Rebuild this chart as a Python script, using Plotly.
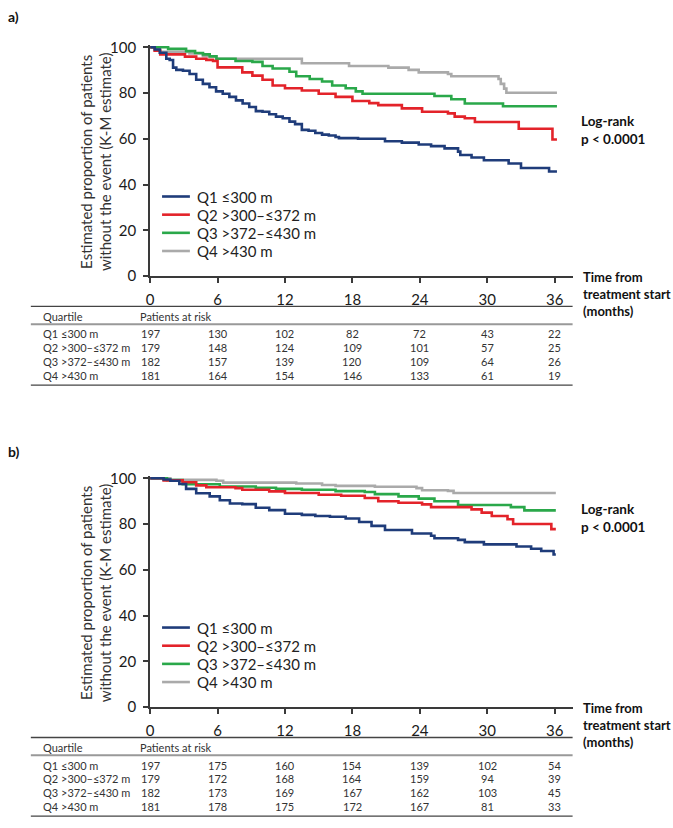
import plotly.graph_objects as go

W, H = 673, 828
FONT = "Lato"

groups = ["Q1 ≤300 m", "Q2 >300–≤372 m", "Q3 >372–≤430 m", "Q4 >430 m"]
colors = ["#1f3c7a", "#e3232a", "#2aa84a", "#aaaaaa"]
months = [0, 6, 12, 18, 24, 30, 36]

# ---- Panel a: Kaplan-Meier step points (time in months, % without event) ----
a_q1_t = [0, 0.41, 0.86, 1.44, 1.74, 2.04, 2.33, 2.92, 3.51, 4.1, 4.69, 5.28, 5.87, 6.46, 7.05, 7.64, 8.23,
          8.82, 9.41, 10.0, 10.6, 11.2, 11.8, 12.4, 12.9, 13.5, 14.1, 14.7, 15.3, 15.9, 16.5, 16.8, 18.5,
          20.9, 22.4, 23.9, 25.0, 26.2, 27.4, 27.6, 28.6, 29.7, 31.9, 33.0, 35.5, 36.2]
a_q1_s = [100, 99.0, 97.6, 95.0, 94.4, 91.1, 90.1, 89.7, 88.3, 85.8, 84.0, 82.5, 80.7, 79.7, 78.3, 76.8, 75.4,
          73.9, 72.1, 71.8, 70.7, 69.7, 69.0, 67.5, 66.4, 63.9, 63.5, 62.5, 61.8, 61.4, 60.8, 60.3, 60.0,
          58.9, 58.3, 57.5, 56.8, 55.8, 54.4, 52.9, 51.8, 50.6, 49.2, 47.2, 45.7, 45.7]
a_q2_t = [0, 0.4, 0.9, 3.1, 4.1, 5.0, 5.6, 6.0, 8.2, 9.1, 10.0, 10.9, 12.0, 13.5, 15.0, 16.5, 18.0, 19.5,
          20.3, 22.4, 24.2, 26.5, 27.1, 28.0, 28.9, 32.8, 35.8, 36.2]
a_q2_s = [100, 98.5, 96.9, 95.9, 95.0, 94.5, 94.0, 91.2, 89.0, 87.6, 85.8, 83.3, 82.1, 81.1, 79.7, 78.3, 76.5,
          75.6, 74.7, 73.3, 71.8, 71.1, 69.7, 69.0, 67.3, 64.4, 59.7, 59.7]
a_q3_t = [0, 1.6, 3.2, 4.0, 4.7, 5.3, 5.9, 7.6, 9.1, 10.0, 10.9, 12.4, 13.0, 14.2, 15.3, 16.2, 17.4, 18.3,
          18.9, 25.3, 26.8, 28.0, 31.4, 36.2]
a_q3_s = [100, 99.3, 98.3, 97.5, 96.9, 96.0, 95.0, 94.0, 93.6, 91.8, 90.7, 89.3, 87.3, 86.1, 85.0, 83.3, 82.1,
          80.7, 79.7, 78.7, 77.3, 75.4, 74.2, 74.2]
a_q4_t = [0, 0.5, 0.9, 3.5, 4.7, 5.9, 13.5, 17.7, 21.2, 23.0, 23.9, 26.5, 26.8, 31.0, 31.2, 31.5, 31.7, 36.2]
a_q4_s = [100, 99.0, 98.0, 97.3, 96.1, 95.0, 93.0, 91.8, 91.1, 90.1, 89.0, 88.3, 87.3, 86.1, 84.0, 81.9, 80.1, 80.1]

# ---- Panel b ----
b_q1_t = [0, 1.2, 1.8, 2.6, 3.2, 4.1, 5.3, 6.2, 7.1, 8.2, 9.4, 10.6, 12.0, 13.5, 14.7, 16.0, 17.4, 18.6,
          19.7, 20.9, 23.3, 25.0, 25.3, 27.4, 28.0, 29.7, 32.6, 33.9, 34.8, 35.9, 36.1]
b_q1_s = [100, 99.5, 98.9, 97.5, 95.4, 93.5, 92.1, 90.4, 89.0, 88.7, 87.1, 86.1, 84.5, 84.0, 83.5, 83.2, 82.4,
          80.9, 79.2, 77.4, 75.9, 74.9, 73.8, 73.1, 72.1, 71.1, 70.2, 69.2, 68.2, 66.7, 66.7]
b_q2_t = [0, 1.2, 2.9, 4.1, 5.0, 7.6, 8.2, 10.6, 12.0, 15.0, 17.0, 19.1, 20.3, 22.1, 24.2, 25.0, 28.6, 29.5,
          30.4, 31.8, 32.3, 35.7, 36.1]
b_q2_s = [100, 99.1, 98.3, 96.9, 96.1, 95.7, 95.0, 94.3, 93.6, 92.8, 92.4, 91.4, 90.0, 89.3, 88.6, 87.4, 86.4,
          85.0, 83.5, 82.1, 80.0, 77.8, 77.8]
b_q3_t = [0, 1.5, 2.9, 6.2, 9.4, 11.2, 13.5, 16.5, 19.1, 20.0, 22.1, 23.9, 25.3, 27.4, 32.1, 33.3, 36.1]
b_q3_s = [100, 99.2, 97.4, 96.4, 95.9, 95.4, 95.0, 94.4, 94.0, 93.1, 92.1, 91.1, 90.0, 88.3, 87.4, 86.0, 86.0]
b_q4_t = [0, 1.8, 5.9, 6.5, 13.0, 15.3, 16.5, 20.0, 23.7, 24.2, 26.5, 27.0, 36.1]
b_q4_s = [100, 99.3, 98.9, 98.1, 97.7, 97.1, 96.7, 96.3, 95.7, 94.8, 94.5, 93.6, 93.6]

# ---- Patients at risk ----
risk_a = [[197, 130, 102, 82, 72, 43, 22],
          [179, 148, 124, 109, 101, 57, 25],
          [182, 157, 139, 120, 109, 64, 26],
          [181, 164, 154, 146, 133, 61, 19]]
risk_b = [[197, 175, 160, 154, 139, 102, 54],
          [179, 172, 168, 164, 159, 94, 39],
          [182, 173, 169, 167, 162, 103, 45],
          [181, 178, 175, 172, 167, 81, 33]]

curves_a = [(a_q1_t, a_q1_s), (a_q2_t, a_q2_s), (a_q3_t, a_q3_s), (a_q4_t, a_q4_s)]
curves_b = [(b_q1_t, b_q1_s), (b_q2_t, b_q2_s), (b_q3_t, b_q3_s), (b_q4_t, b_q4_s)]


def px(x):
    return x / W


def py(y):
    return 1 - y / H


fig = go.Figure()
for idx in [3, 2, 1, 0]:
    t, s = curves_a[idx]
    fig.add_trace(go.Scatter(x=t, y=s, mode="lines", line=dict(shape="hv", color=colors[idx], width=2.6),
                             name=groups[idx], xaxis="x", yaxis="y", showlegend=False))
for idx in [3, 2, 1, 0]:
    t, s = curves_b[idx]
    fig.add_trace(go.Scatter(x=t, y=s, mode="lines", line=dict(shape="hv", color=colors[idx], width=2.6),
                             name=groups[idx], xaxis="x2", yaxis="y2", showlegend=False))

x_left, x36, x_right = 147, 554, 572
xmax = 36 * (x_right - x_left) / (x36 - x_left)

panels = [
    dict(xa="xaxis", ya="yaxis", xref="x", top=41, bottom=274, lbl="a)", lbl_y=10, lr_y=125, risk=risk_a),
    dict(xa="xaxis2", ya="yaxis2", xref="x2", top=480, bottom=713, lbl="b)", lbl_y=453, lr_y=520, risk=risk_b),
]

axis_common = dict(showgrid=False, zeroline=False, showline=True, linecolor="#3a3a3a", linewidth=2,
                   ticks="outside", ticklen=5, tickwidth=1.5, tickcolor="#3a3a3a",
                   tickfont=dict(family=FONT, size=15, color="#1a1a1a"))

annotations = []
shapes = []
layout = dict(width=W, height=H, margin=dict(l=0, r=0, t=0, b=0), paper_bgcolor="white",
              plot_bgcolor="white", font=dict(family=FONT, color="#222"), showlegend=False)

for p in panels:
    top_ext = p["top"] - (p["bottom"] - p["top"]) / 100.0
    off = p["bottom"] - 274
    layout[p["xa"]] = dict(axis_common, domain=[px(x_left), px(x_right)], range=[0, xmax],
                           tickvals=months, anchor=p["ya"].replace("axis", ""), ticklabelstandoff=4)
    layout[p["ya"]] = dict(axis_common, domain=[py(p["bottom"]), py(top_ext)], range=[0, 101],
                           tickvals=[0, 20, 40, 60, 80, 100], anchor=p["xref"], ticklabelstandoff=4)
    # legend (drawn manually to match spacing)
    leg_y = [193, 211.5, 230, 248.5]
    for gi, g in enumerate(groups):
        yy = py(leg_y[gi] + off)
        shapes.append(dict(type="line", xref="paper", yref="paper", x0=px(159), x1=px(187), y0=yy, y1=yy,
                           line=dict(color=colors[gi], width=2.6)))
        annotations.append(dict(text=g, x=px(192), y=yy, xref="paper", yref="paper", xanchor="left",
                                yanchor="middle", showarrow=False, font=dict(family=FONT, size=15, color="#222")))
    # panel label
    annotations.append(dict(text="<b>" + p["lbl"] + "</b>", x=px(2), y=py(p["lbl_y"]), xref="paper",
                            yref="paper", xanchor="left", yanchor="middle", showarrow=False,
                            font=dict(family=FONT, size=14, color="#111")))
    # y title
    annotations.append(dict(text="Estimated proportion of patients<br>without the event (K-M estimate)",
                            x=px(92), y=py((p["top"] + p["bottom"]) / 2), xref="paper", yref="paper",
                            xanchor="center", yanchor="middle", textangle=-90, showarrow=False,
                            font=dict(family=FONT, size=15, color="#333")))
    # log-rank
    annotations.append(dict(text="<b>Log-rank<br>p &lt; 0.0001</b>", x=px(578), y=py(p["lr_y"]),
                            xref="paper", yref="paper", xanchor="left", yanchor="middle", align="left",
                            showarrow=False, font=dict(family=FONT, size=13.5, color="#111")))
    # x title
    annotations.append(dict(text="<b>Time from<br>treatment start<br>(months)</b>", x=px(580),
                            y=py(292 + off), xref="paper", yref="paper", xanchor="left", yanchor="middle",
                            align="left", showarrow=False, font=dict(family=FONT, size=13, color="#111")))
    # table lines
    for ly, col, wd in [(305, "#444", 1.3), (323, "#999", 2), (385, "#444", 1.3)]:
        shapes.append(dict(type="line", xref="paper", yref="paper", x0=px(27), x1=px(572),
                           y0=py(ly + off), y1=py(ly + off), line=dict(color=col, width=wd)))
    tfont = dict(family=FONT, size=11, color="#333")
    annotations.append(dict(text="Quartile", x=px(37), y=py(315 + off), xref="paper", yref="paper",
                            xanchor="left", yanchor="middle", showarrow=False, font=tfont))
    annotations.append(dict(text="Patients at risk", x=px(135), y=py(315 + off), xref="paper", yref="paper",
                            xanchor="left", yanchor="middle", showarrow=False, font=tfont))
    row_y = [333, 347, 361, 375]
    for gi, g in enumerate(groups):
        annotations.append(dict(text=g, x=px(37), y=py(row_y[gi] + off), xref="paper", yref="paper",
                                xanchor="left", yanchor="middle", showarrow=False, font=tfont))
        for mi, m in enumerate(months):
            annotations.append(dict(text=str(p["risk"][gi][mi]), x=m, y=py(row_y[gi] + off), xref=p["xref"],
                                    yref="paper", xanchor="center", yanchor="middle", showarrow=False,
                                    font=tfont))

layout["annotations"] = annotations
layout["shapes"] = shapes
fig.update_layout(**layout)
fig.write_html("out.html", config={"displayModeBar": False},
               post_script="document.body.style.margin='0';document.body.style.padding='0';"
                           "document.body.style.overflow='hidden';")
